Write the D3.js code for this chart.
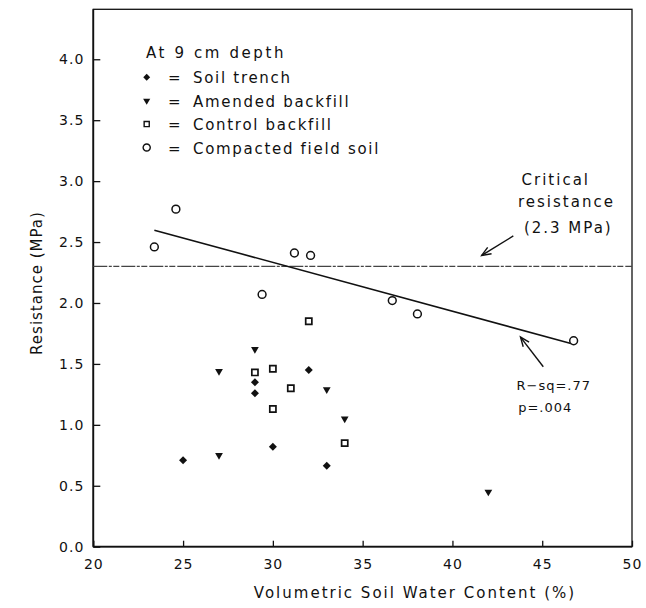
<!DOCTYPE html>
<html>
<head>
<meta charset="utf-8">
<script src="https://cdn.jsdelivr.net/npm/d3@7"></script>
<style>
  html, body { margin: 0; padding: 0; background: #fff; }
  svg { display: block; font-family: "DejaVu Sans", sans-serif; }
  .tick text { font-family: "DejaVu Sans", sans-serif; font-size: 14px; letter-spacing: 1px; fill: #111; }
</style>
</head>
<body>
<svg id="chart" width="646" height="608"></svg>
<script>
// ---- data ----
const xTicks = [20, 25, 30, 35, 40, 45, 50];
const yTicks = [0, 0.5, 1.0, 1.5, 2.0, 2.5, 3.0, 3.5, 4.0];

const trenchX = [25, 29, 29, 30, 32, 33];
const trenchY = [0.71, 1.35, 1.26, 0.82, 1.45, 0.665];

const amendedX = [27, 27, 29, 33, 34, 42];
const amendedY = [1.44, 0.75, 1.62, 1.29, 1.05, 0.45];

const controlX = [29, 30, 30, 31, 32, 34];
const controlY = [1.43, 1.46, 1.13, 1.30, 1.85, 0.85];

const compactedX = [23.4, 24.6, 29.4, 31.2, 32.1, 36.65, 38.05, 46.75];
const compactedY = [2.46, 2.77, 2.07, 2.41, 2.39, 2.02, 1.91, 1.69];

const fitIntercept = 3.536;
const fitSlope = -0.0401;
const fitRange = [23.4, 46.6];
const criticalValue = 2.3;

const legendTitle = "At 9 cm depth";
const legendLabels = ["Soil trench", "Amended backfill", "Control backfill", "Compacted field soil"];
const criticalLines = ["Critical", "resistance", "(2.3 MPa)"];
const statLines = ["R\u2212sq=.77", "p=.004"];

// ---- layout ----
const svg = d3.select("#chart");
const L = 93.3, R = 632, T = 9.3, B = 546.7;
const x = d3.scaleLinear().domain([20, 50]).range([L, R]);
const y = d3.scaleLinear().domain([0, 4.41]).range([B, T]);

// frame
svg.append("rect").attr("x", L).attr("y", T).attr("width", R - L).attr("height", B - T)
  .attr("fill", "none").attr("stroke", "#111").attr("stroke-width", 1.3);
svg.append("line").attr("x1", L).attr("x2", L).attr("y1", T).attr("y2", B)
  .attr("stroke", "#111").attr("stroke-width", 1.8);
svg.append("line").attr("x1", L).attr("x2", R).attr("y1", B).attr("y2", B)
  .attr("stroke", "#111").attr("stroke-width", 1.8);

// axes
const xAxis = d3.axisBottom(x).tickValues(xTicks).tickFormat(d3.format("d"))
  .tickSizeInner(-6).tickSizeOuter(0).tickPadding(12);
const gx = svg.append("g").attr("transform", `translate(0,${B})`).call(xAxis);
gx.select(".domain").remove();
gx.selectAll(".tick line").attr("stroke", "#111").attr("stroke-width", 1.3);

const yAxis = d3.axisLeft(y).tickValues(yTicks).tickFormat(d3.format(".1f"))
  .tickSizeInner(-7).tickSizeOuter(0).tickPadding(9);
const gy = svg.append("g").attr("transform", `translate(${L},0)`).call(yAxis);
gy.select(".domain").remove();
gy.selectAll(".tick line").attr("stroke", "#111").attr("stroke-width", 1.3);

// axis titles
svg.append("text").attr("x", 415).attr("y", 598).attr("text-anchor", "middle")
  .style("font-size", "15px").style("letter-spacing", "2px").attr("fill", "#111")
  .text("Volumetric Soil Water Content (%)");
svg.append("text").attr("transform", `translate(42,283) rotate(-90)`)
  .attr("text-anchor", "middle")
  .style("font-size", "15px").style("letter-spacing", "1px").attr("fill", "#111")
  .text("Resistance (MPa)");

// critical line
svg.append("line").attr("x1", x(20)).attr("x2", x(50))
  .attr("y1", y(criticalValue)).attr("y2", y(criticalValue))
  .attr("stroke", "#444").attr("stroke-width", 1.1).attr("stroke-dasharray", "14,1.5,3,1.5,6,2");

// regression line
svg.append("line")
  .attr("x1", x(fitRange[0])).attr("y1", y(fitIntercept + fitSlope * fitRange[0]))
  .attr("x2", x(fitRange[1])).attr("y2", y(fitIntercept + fitSlope * fitRange[1]))
  .attr("stroke", "#111").attr("stroke-width", 1.6);

// markers
const sym = {
  diamond: d3.symbol().type(d3.symbolSquare).size(32),
  triangle: d3.symbol().type(d3.symbolTriangle).size(26),
  square: d3.symbol().type(d3.symbolSquare).size(38),
  circle: d3.symbol().type(d3.symbolCircle).size(48)
};
function drawSeries(xs, ys, kind) {
  const g = svg.append("g");
  xs.forEach((xv, i) => {
    const p = g.append("path").attr("d", sym[kind]());
    let tr = `translate(${x(xv)},${y(ys[i])})`;
    if (kind === "diamond") { tr += " rotate(45)"; p.attr("fill", "#111"); }
    else if (kind === "triangle") { tr += " rotate(180)"; p.attr("fill", "#111"); }
    else { p.attr("fill", "#fff").attr("stroke", "#111").attr("stroke-width", kind === "square" ? 1.7 : 1.5); }
    p.attr("transform", tr);
  });
}
drawSeries(trenchX, trenchY, "diamond");
drawSeries(amendedX, amendedY, "triangle");
drawSeries(controlX, controlY, "square");
drawSeries(compactedX, compactedY, "circle");

// legend
const lg = svg.append("g").style("font-size", "15px").style("letter-spacing", "1.7px").attr("fill", "#111");
lg.append("text").attr("x", 146).attr("y", 58.3).style("letter-spacing", "2.6px").text(legendTitle);
const kinds = ["diamond", "triangle", "square", "circle"];
const legSym = {
  diamond: d3.symbol().type(d3.symbolSquare).size(24),
  triangle: d3.symbol().type(d3.symbolTriangle).size(22),
  square: d3.symbol().type(d3.symbolSquare).size(26),
  circle: d3.symbol().type(d3.symbolCircle).size(40)
};
legendLabels.forEach((lab, i) => {
  const by = 83.3 + i * 23.4;
  const p = lg.append("path").attr("d", legSym[kinds[i]]());
  let tr = `translate(146.7,${by - 6})`;
  if (kinds[i] === "diamond") { tr += " rotate(45)"; p.attr("fill", "#111"); }
  else if (kinds[i] === "triangle") { tr += " rotate(180)"; p.attr("fill", "#111"); }
  else { p.attr("fill", "#fff").attr("stroke", "#111").attr("stroke-width", 1.4); }
  p.attr("transform", tr);
  lg.append("text").attr("x", 168).attr("y", by).text("=");
  lg.append("text").attr("x", 193).attr("y", by).text(lab);
});

// annotations
const ann = svg.append("g").style("font-size", "15px").style("letter-spacing", "2px").attr("fill", "#111");
const critPos = [[43.85, 2.97], [43.65, 2.79], [43.98, 2.575]];
criticalLines.forEach((t, i) => ann.append("text").attr("x", x(critPos[i][0])).attr("y", y(critPos[i][1])).text(t));
const statPos = [[43.57, 1.29], [43.66, 1.105]];
const ann2 = svg.append("g").style("font-size", "13px").style("letter-spacing", "1px").attr("fill", "#111");
statLines.forEach((t, i) => ann2.append("text").attr("x", x(statPos[i][0])).attr("y", y(statPos[i][1])).text(t));

// arrows
function arrow(from, to) {
  const x1 = x(from[0]), y1 = y(from[1]), x2 = x(to[0]), y2 = y(to[1]);
  const a = Math.atan2(y2 - y1, x2 - x1);
  const h = 10, w = 0.38;
  svg.append("line").attr("x1", x1).attr("y1", y1).attr("x2", x2).attr("y2", y2)
    .attr("stroke", "#111").attr("stroke-width", 1.4);
  svg.append("path")
    .attr("d", `M${x2 - h * Math.cos(a - w)},${y2 - h * Math.sin(a - w)} L${x2},${y2} L${x2 - h * Math.cos(a + w)},${y2 - h * Math.sin(a + w)}`)
    .attr("fill", "none").attr("stroke", "#111").attr("stroke-width", 1.4);
}
arrow([43.39, 2.55], [41.63, 2.39]);
arrow([45.06, 1.477], [43.79, 1.72]);
</script>
</body>
</html>
